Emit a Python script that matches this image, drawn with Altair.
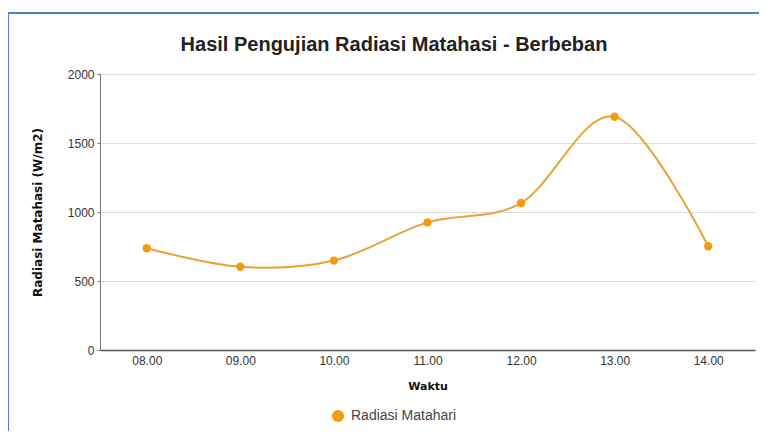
import altair as alt
import pandas as pd

waktu = ["08.00", "09.00", "10.00", "11.00", "12.00", "13.00", "14.00"]
radiasi = [737, 603, 648, 925, 1065, 1690, 752]
series_name = "Radiasi Matahari"
chart_title = "Hasil Pengujian Radiasi Matahasi - Berbeban"

df = pd.DataFrame({"Waktu": waktu, "Radiasi": radiasi, "Seri": [series_name] * len(waktu)})

x_enc = alt.X("Waktu:O", sort=waktu,
              scale=alt.Scale(type="point", padding=0.5),
              axis=alt.Axis(title="Waktu", labelAngle=0, ticks=False, grid=False,
                            labelFont="Liberation Sans", labelFontSize=12, labelColor="#333",
                            labelPadding=5, domainColor="#555", domainWidth=1.5,
                            titleFont="DejaVu Sans", titleFontWeight="bold", titleFontSize=11,
                            titleColor="#111", titlePadding=14))
y_enc = alt.Y("Radiasi:Q",
              scale=alt.Scale(domain=[0, 2000], nice=False),
              axis=alt.Axis(title="Radiasi Matahasi (W/m2)", values=[0, 500, 1000, 1500, 2000],
                            format="d",
                            labelFont="Liberation Sans", labelFontSize=12, labelColor="#333",
                            labelPadding=3, tickSize=3, tickColor="#777", domainColor="#777",
                            gridColor="#dddddd", titleFont="DejaVu Sans", titleFontWeight="bold",
                            titleFontSize=12, titleColor="#111", titlePadding=23))

base = alt.Chart(df)

line = base.mark_line(interpolate="cardinal", strokeWidth=2, color="#E9A235").encode(x=x_enc, y=y_enc)

points = base.mark_circle(size=70, opacity=1).encode(
    x=x_enc, y=y_enc,
    color=alt.Color("Seri:N", scale=alt.Scale(domain=[series_name], range=["#F39C12"]),
                    legend=alt.Legend(title=None, orient="none", legendX=231, legendY=335,
                                      symbolType="circle", symbolSize=150, symbolStrokeWidth=0,
                                      labelFont="Liberation Sans", labelFontSize=14,
                                      labelColor="#444", labelOffset=6)))

blank = alt.Data(values=[{"t": chart_title}])
frame_top = alt.Chart(blank).mark_rule(stroke="#4F7FC6", strokeWidth=2).encode(
    x=alt.value(-93), x2=alt.value(700), y=alt.value(-61))
frame_left = alt.Chart(blank).mark_rule(stroke="#4F7FC6", strokeWidth=2).encode(
    x=alt.value(-92), y=alt.value(-62), y2=alt.value(400))

title = alt.Chart(blank).mark_text(font="Liberation Sans", fontSize=20, fontWeight="bold",
                                   color="#222", align="center", baseline="alphabetic").encode(
    text="t:N", x=alt.value(294), y=alt.value(-23))

chart = alt.layer(frame_top, frame_left, title, line, points).properties(
    width=655, height=276,
    autosize=alt.AutoSizeParams(type="none"),
    padding={"left": 92, "top": 66, "right": 4, "bottom": 81},
).configure_view(stroke=None)

chart.save("out.html", embed_options={"renderer": "svg", "actions": False})
